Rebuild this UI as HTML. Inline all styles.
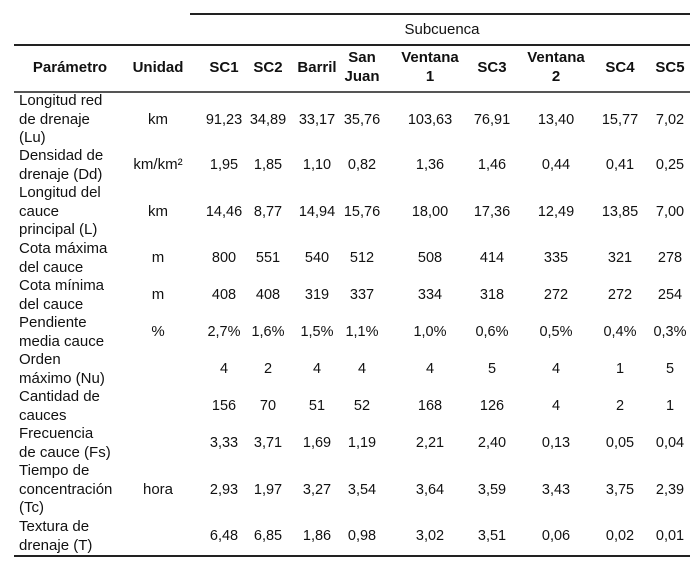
<!DOCTYPE html>
<html><head><meta charset="utf-8"><style>
body{margin:0;width:700px;height:564px;background:#fff;position:relative;font-family:"Liberation Sans",Arial,sans-serif;color:#111;font-size:15px;overflow:hidden}
.l{position:absolute;height:1.5px;background:#222}
.c{position:absolute;text-align:center;line-height:18.5px;width:90px;white-space:nowrap}
.v{font-size:14.5px}
.p{position:absolute;left:19px;line-height:18.5px;white-space:nowrap}
.h{font-weight:bold}
</style></head><body>
<div class="l" style="left:190px;width:500px;top:13px"></div>
<div class="l" style="left:14px;width:676px;top:44px"></div>
<div class="l" style="left:14px;width:676px;top:91px;background:#555"></div>
<div class="l" style="left:14px;width:676px;top:555px"></div>
<div class="c" style="left:397px;top:21px">Subcuenca</div>
<div id="t"></div>
<script>
var cols=[158,224,268,317,362,430,492,556,620,670];
var H=[["Parámetro",70],["Unidad",158],["SC1",224],["SC2",268],["Barril",317],["San<br>Juan",362],["Ventana<br>1",430],["SC3",492],["Ventana<br>2",556],["SC4",620],["SC5",670]];
var s="";
H.forEach(function(h){var two=h[0].indexOf("<br>")>0;s+='<div class="c h" style="left:'+(h[1]-45)+'px;top:'+(two?49:59)+'px">'+h[0]+'</div>';});
var R=[
[92,3,"Longitud red<br>de drenaje<br>(Lu)","km","91,23 34,89 33,17 35,76 103,63 76,91 13,40 15,77 7,02"],
[147,2,"Densidad de<br>drenaje (Dd)","km/km²","1,95 1,85 1,10 0,82 1,36 1,46 0,44 0,41 0,25"],
[184,3,"Longitud del<br>cauce<br>principal (L)","km","14,46 8,77 14,94 15,76 18,00 17,36 12,49 13,85 7,00"],
[240,2,"Cota máxima<br>del cauce","m","800 551 540 512 508 414 335 321 278"],
[277,2,"Cota mínima<br>del cauce","m","408 408 319 337 334 318 272 272 254"],
[314,2,"Pendiente<br>media cauce","%","2,7% 1,6% 1,5% 1,1% 1,0% 0,6% 0,5% 0,4% 0,3%"],
[351,2,"Orden<br>máximo (Nu)","","4 2 4 4 4 5 4 1 5"],
[388,2,"Cantidad de<br>cauces","","156 70 51 52 168 126 4 2 1"],
[425,2,"Frecuencia<br>de cauce (Fs)","","3,33 3,71 1,69 1,19 2,21 2,40 0,13 0,05 0,04"],
[462,3,"Tiempo de<br>concentración<br>(Tc)","hora","2,93 1,97 3,27 3,54 3,64 3,59 3,43 3,75 2,39"],
[518,2,"Textura de<br>drenaje (T)","","6,48 6,85 1,86 0,98 3,02 3,51 0,06 0,02 0,01"]];
R.forEach(function(r){var y=r[0],n=r[1];s+='<div class="p" style="top:'+y+'px">'+r[2]+'</div>';
var cy=y+(n*18.5-18.5)/2;var v=[r[3]].concat(r[4].split(" "));
v.forEach(function(t,i){s+='<div class="c'+(i>0?' v':'')+'" style="left:'+(cols[i]-45)+'px;top:'+cy+'px">'+t+'</div>';});});
document.getElementById("t").innerHTML=s;
</script>
</body></html>
